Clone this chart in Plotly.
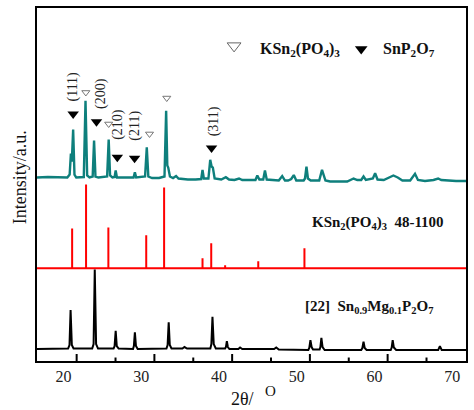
import plotly.graph_objects as go

# ---------------- data (2theta in degrees, intensity in a.u.) ----------------
# Sample pattern (teal), profile, heights above its baseline
teal_x = [16.60, 18.0, 20.5, 20.80, 20.96, 21.08, 21.25, 21.42, 21.65, 22.62, 22.84, 23.05, 23.35,
          23.76, 23.94, 24.12, 24.5, 25.62, 25.82, 26.0, 26.3, 26.58, 26.72, 26.88, 28.2, 29.02,
          29.19, 29.36, 30.5, 30.72, 30.92, 31.4, 32.3, 33.0, 33.21, 33.36, 33.48, 33.7, 34.1,
          34.49, 34.8, 36.0, 37.0, 37.72, 37.89, 38.06, 38.65, 38.88, 39.06, 39.22, 39.45, 40.3,
          40.89, 41.3, 42.0, 42.59, 43.0, 44.2, 44.7, 44.94, 45.2, 45.7, 45.92, 46.15, 46.7, 47.2,
          47.7, 48.14, 48.5, 48.9, 49.3, 49.63, 49.95, 50.9, 51.07, 51.26, 51.45, 51.8, 52.9,
          53.26, 53.7, 54.3, 56.5, 57.32, 57.8, 58.3, 58.6, 58.9, 59.4, 59.8, 60.09, 60.4, 61.2,
          61.9, 62.44, 63.0, 63.6, 64.6, 65.22, 65.6, 66.5, 67.6, 68.2, 68.6, 69.2, 70.5, 71.78]
teal_h = [3, 3.5, 3, 6, 27, 19, 51, 6, 3, 3.5, 80, 5, 3,
          4, 40, 4, 3, 4, 41, 5, 3, 3.5, 10, 3, 3, 3,
          8.3, 3, 4, 33.3, 4, 2.5, 2.5, 4, 70, 15, 13, 4, 2.5,
          4.5, 2, 1, 1, 1.5, 10.7, 2, 2, 20.7, 14, 13, 2, 1,
          3.3, 1, 0.5, 2, 0.5, 0, 0.5, 5, 1, 1, 10, 1, 0.5, 0,
          0, 4.5, 0, 0, 1.5, 5.5, 0, 0, 2, 14, 2, 0, 0,
          10.7, 0, -1, -1, 2, 0.5, 0.5, 4, 0.5, 1, 2, 7.3, 1, 0.5,
          3, 5, 3, 0, 0, 6.7, 0.5, -0.5, 0.5, 2, 0.5, 0, -0.5, -0.5]

# Reference card KSn2(PO4)3 48-1100 (red sticks)
ref_pos = [21.12, 22.91, 25.78, 30.65, 32.95, 37.89, 39.01, 40.80, 45.06, 51.00]
ref_int = [40, 84, 41, 33, 81, 10, 25, 3, 7, 20]

# Reference [22] Sn0.9Mg0.1P2O7 (black), profile heights above its baseline
blk_x = [16.60, 20.6, 20.78, 20.92, 21.08, 21.3, 23.7, 23.88, 24.03, 24.2, 24.45, 26.45, 26.58,
         26.72, 26.86, 27.1, 28.95, 29.06, 29.19, 29.33, 29.55, 33.25, 33.4, 33.54, 33.68, 33.9,
         35.3, 35.57, 35.9, 38.9, 39.03, 39.17, 39.33, 39.6, 40.8, 40.9, 41.02, 41.15, 41.35,
         42.5, 42.72, 43.0, 47.1, 47.37, 47.7, 51.5, 51.62, 51.77, 51.92, 52.1, 52.95, 53.05,
         53.18, 53.33, 53.6, 58.3, 58.45, 58.6, 58.75, 59.0, 62.1, 62.22, 62.35, 62.5, 62.8,
         68.2, 68.42, 68.65, 71.78]
blk_h = [0, 0.5, 4, 39, 4, 0.5, 0.5, 5, 79.7, 5, 0.5, 0.5, 3,
         18.3, 3, 0.5, 0, 3, 16.7, 3, 0, 0.5, 4, 26.7, 4, 0.5,
         0.5, 2, 0.5, 0.5, 5, 32.3, 5, 0.5, 0.5, 2, 8, 2, 0,
         0, 1.5, 0, 0, 1.5, -0.5, -1, 1, 9, 2, -0.5, -0.5, 2,
         11.3, 2, -1, -1, 1, 7.3, 1, -1, -1, 1.5, 9, 1.5, -1,
         -1, 3, -1, -1]

# Phase markers
ksn_mark_x = [22.88, 25.82, 31.07, 33.29]          # open triangles KSn2(PO4)3
ksn_mark_y = [269.3, 237.7, 227.7, 263.7]
snp_mark_x = [21.25, 24.25, 26.93, 29.15, 39.05]   # filled triangles SnP2O7
snp_mark_y = [247.7, 240.0, 204.3, 203.3, 213.7]
hkl_labels = ["(111)", "(200)", "(210)", "(211)", "(311)"]
hkl_x = [21.22, 24.92, 27.10, 29.24, 39.48]
hkl_y = [275.2, 268.5, 237.5, 236.3, 240.2]

x_ticks = [20, 30, 40, 50, 60, 70]                  # labelled positions
x_tickmarks_major = [21.7, 31.7, 41.7, 51.7, 61.7]  # drawn tick marks (offset in the original)
x_tickmarks_minor = [26.7, 36.7, 46.7, 56.7, 66.7]

# stacking offsets of the three patterns
OFF_TEAL, OFF_RED, OFF_BLK = 181, 93, 12
X_RANGE = [16.60, 71.78]
FONT = "Liberation Serif"

# ---------------- figure ----------------
fig = go.Figure()

# red sticks
rx, ry = [X_RANGE[0]], [OFF_RED]
for p, h in zip(ref_pos, ref_int):
    rx += [p, p, p]
    ry += [OFF_RED, OFF_RED + h, OFF_RED]
rx.append(X_RANGE[1]); ry.append(OFF_RED)
fig.add_trace(go.Scatter(x=rx, y=ry, mode="lines", line=dict(color="#ff0000", width=2),
                         hoverinfo="skip"))

fig.add_trace(go.Scatter(x=blk_x, y=[OFF_BLK + v for v in blk_h], mode="lines",
                         line=dict(color="#000000", width=2)))
fig.add_trace(go.Scatter(x=teal_x, y=[OFF_TEAL + v for v in teal_h], mode="lines",
                         line=dict(color="#0e7f7c", width=2.4)))

fig.add_trace(go.Scatter(x=ksn_mark_x, y=ksn_mark_y, mode="markers",
                         marker=dict(symbol="triangle-down-open", size=7, color="#777777",
                                     line=dict(width=1, color="#777777"))))
fig.add_trace(go.Scatter(x=snp_mark_x, y=snp_mark_y, mode="markers",
                         marker=dict(symbol="triangle-down", size=10, color="#000000")))
# legend-like symbols in plot
fig.add_trace(go.Scatter(x=[41.95], y=[316], mode="markers",
                         marker=dict(symbol="triangle-down-open", size=12, color="#666666",
                                     line=dict(width=1, color="#666666"))))
fig.add_trace(go.Scatter(x=[58.30], y=[313], mode="markers",
                         marker=dict(symbol="triangle-down", size=11, color="#000000")))

ann = []
for t, x, y in zip(hkl_labels, hkl_x, hkl_y):
    ann.append(dict(x=x, y=y, xref="x", yref="y", text=t, showarrow=False, textangle=-90,
                    font=dict(family=FONT, size=14, color="#222222")))

ann.append(dict(x=0.515, y=0.882, xref="paper", yref="paper", xanchor="left", yanchor="middle",
                text="<b>KSn<sub>2</sub>(PO<sub>4</sub>)<sub>3</sub></b>", showarrow=False,
                font=dict(family=FONT, size=16, color="#111111")))
ann.append(dict(x=0.803, y=0.882, xref="paper", yref="paper", xanchor="left", yanchor="middle",
                text="<b>SnP<sub>2</sub>O<sub>7</sub></b>", showarrow=False,
                font=dict(family=FONT, size=16, color="#111111")))
ann.append(dict(x=0.954, y=0.391, xref="paper", yref="paper", xanchor="right", yanchor="middle",
                text="<b>KSn<sub>2</sub>(PO<sub>4</sub>)<sub>3</sub>  48-1100</b>", showarrow=False,
                font=dict(family=FONT, size=15, color="#111111")))
ann.append(dict(x=0.927, y=0.153, xref="paper", yref="paper", xanchor="right", yanchor="middle",
                text="<b>[22]  Sn<sub>0.9</sub>Mg<sub>0.1</sub>P<sub>2</sub>O<sub>7</sub></b>",
                showarrow=False, font=dict(family=FONT, size=15, color="#111111")))
ann.append(dict(x=-0.067, y=0.521, xref="paper", yref="paper", text="Intensity/a.u.",
                textangle=-90, showarrow=False, font=dict(family=FONT, size=18, color="#111111")))
# x-axis title "2θ/ O" (O raised)
ann.append(dict(x=(243 - 37) / 431, y=-(399 - 361) / 354, xref="paper", yref="paper",
                text="2θ/", showarrow=False, xanchor="center", yanchor="middle",
                font=dict(family=FONT, size=18, color="#111111")))
ann.append(dict(x=(272 - 37) / 431, y=-(391 - 361) / 354, xref="paper", yref="paper",
                text="O", showarrow=False, xanchor="center", yanchor="middle",
                font=dict(family=FONT, size=15, color="#111111")))

# inside tick marks along the bottom axis (drawn as short segments)
shapes = []
for xv in x_tickmarks_major:
    shapes.append(dict(type="line", xref="x", yref="y", x0=xv, x1=xv, y0=0, y1=7,
                       line=dict(color="black", width=2), layer="above"))
for xv in x_tickmarks_minor:
    shapes.append(dict(type="line", xref="x", yref="y", x0=xv, x1=xv, y0=0, y1=3.5,
                       line=dict(color="black", width=2), layer="above"))

fig.update_layout(
    width=474, height=410, margin=dict(l=37, r=6, t=7, b=49),
    plot_bgcolor="white", paper_bgcolor="white", showlegend=False,
    annotations=ann, shapes=shapes,
    xaxis=dict(range=X_RANGE, showline=True, mirror=True, linecolor="black", linewidth=2,
               showgrid=False, zeroline=False,
               tickmode="array", tickvals=x_ticks, ticktext=[str(v) for v in x_ticks],
               ticks="", tickfont=dict(family=FONT, size=16, color="#222222")),
    yaxis=dict(range=[0, 354], showline=True, mirror=True, linecolor="black", linewidth=2,
               ticks="", showticklabels=False, showgrid=False, zeroline=False),
)

fig.write_html("out.html")
